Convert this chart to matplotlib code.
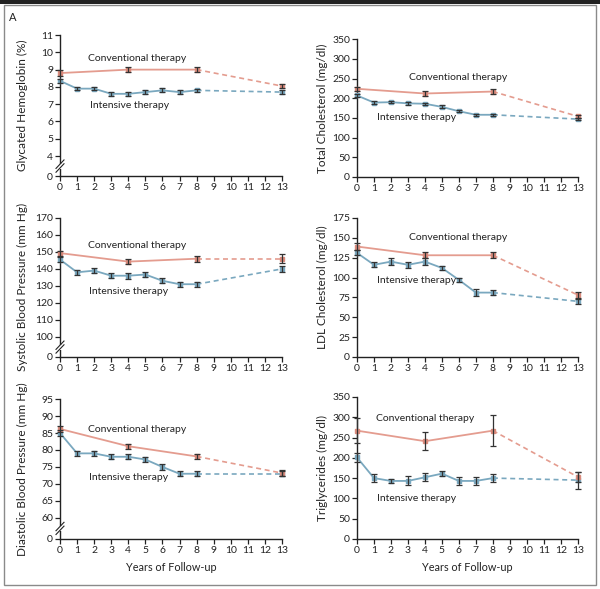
import numpy as np
import matplotlib.pyplot as plt
from matplotlib.patches import Rectangle
from matplotlib.ticker import FixedLocator

plt.rcParams['font.family'] = ['Lato', 'DejaVu Sans']

years_int = [0, 1, 2, 3, 4, 5, 6, 7, 8, 13]
years_conv = [0, 4, 8, 13]

# glycated hemoglobin (%)
hba1c_int = [8.35, 7.9, 7.9, 7.6, 7.6, 7.7, 7.8, 7.7, 7.8, 7.7]
hba1c_int_err = [0.12, 0.1, 0.1, 0.1, 0.1, 0.12, 0.12, 0.1, 0.08, 0.12]
hba1c_conv = [8.8, 9.0, 9.0, 8.05]
hba1c_conv_err = [0.15, 0.15, 0.15, 0.12]

# total cholesterol (mg/dl)
chol_int = [207, 189, 190, 187, 186, 178, 167, 158, 158, 147]
chol_int_err = [5, 4, 3, 4, 3, 4, 3, 2, 2, 3]
chol_conv = [224, 212, 217, 154]
chol_conv_err = [5, 6, 6, 4]

# systolic blood pressure (mm Hg)
sbp_int = [145.5, 138, 139, 136, 136, 136.7, 133, 131, 131, 140]
sbp_int_err = [1.5, 1.5, 1.5, 1.5, 1.7, 1.7, 1.5, 1.5, 1.5, 2]
sbp_conv = [149.3, 144.3, 146, 146]
sbp_conv_err = [1.5, 1.7, 1.7, 2.8]

# LDL cholesterol (mg/dl)
ldl_int = [131, 116, 120, 116, 120, 112, 97, 81, 81, 70]
ldl_int_err = [3, 3, 4, 4, 4, 3, 3, 4, 3, 3]
ldl_conv = [139, 128, 128, 78]
ldl_conv_err = [4, 4, 4, 4]

# diastolic blood pressure (mm Hg)
dbp_int = [85, 79, 79, 78, 78, 77.2, 75, 73, 73, 73]
dbp_int_err = [0.8, 0.8, 0.8, 0.8, 0.8, 0.8, 0.8, 0.8, 0.8, 0.8]
dbp_conv = [86.2, 81.1, 78.1, 73.2]
dbp_conv_err = [0.8, 0.8, 0.8, 0.8]

# triglycerides (mg/dl)
tg_int = [201, 150, 143, 143, 152, 161, 143, 143, 150, 145]
tg_int_err = [11, 10, 6, 11, 10, 6, 10, 9, 10, 21]
tg_conv = [267, 241, 267, 153]
tg_conv_err = [30, 22, 38, 12]

C_CONV = '#e49c8f'
C_CONV_M = '#d98a7c'
C_INT = '#7aa8bf'
C_INT_M = '#7aa8bf'
C_ERR = '#333333'
FS = 7.5


def draw_series(ax, x, y, err, line_c, mark_c):
    x = np.array(x)
    y = np.array(y)
    solid = x <= 8
    ax.plot(x[solid], y[solid], color=line_c, lw=1.3, clip_on=False, zorder=2)
    ax.plot(x[-2:], y[-2:], color=line_c, lw=1.2, ls=(0, (3, 2.2)), clip_on=False, zorder=2)
    ax.plot(x, y, ls='none', marker='s', ms=3.2, mfc=mark_c, mec=mark_c,
            clip_on=False, zorder=3)
    ax.errorbar(x, y, yerr=err, fmt='none', ecolor=C_ERR, elinewidth=0.9,
                capsize=2.2, capthick=0.9, clip_on=False, zorder=4)


def panel(rect, ylabel, ticks, labels, ylim, data, conv_xy, int_xy,
          lab_x, xlabel=False, brk=None):
    ax = fig.add_axes(rect)
    for s in ['top', 'right']:
        ax.spines[s].set_visible(False)
    for s in ['left', 'bottom']:
        ax.spines[s].set_linewidth(1.0)
        ax.spines[s].set_color('#222222')
    ax.set_xlim(0, 13)
    ax.set_ylim(*ylim)
    ax.xaxis.set_major_locator(FixedLocator(range(14)))
    ax.yaxis.set_major_locator(FixedLocator(ticks))
    ax.set_yticklabels(labels)
    ax.tick_params(direction='out', length=3.5, width=0.9, labelsize=FS,
                   pad=1.5, colors='#222222')
    yi, yie, yc, yce = data
    draw_series(ax, years_int, yi, yie, C_INT, C_INT_M)
    draw_series(ax, years_conv, yc, yce, C_CONV, C_CONV_M)
    ax.text(conv_xy[0], conv_xy[1], 'Conventional therapy', fontsize=FS,
            va='center', ha='left', color='#222222')
    ax.text(int_xy[0], int_xy[1], 'Intensive therapy', fontsize=FS,
            va='center', ha='left', color='#222222')
    ax.set_ylabel(ylabel, fontsize=8.5, color='#222222')
    ax.yaxis.set_label_coords(lab_x, 0.5)
    if xlabel:
        ax.set_xlabel('Years of Follow-up', fontsize=FS + 0.3, color='#222222')
        ax.xaxis.set_label_coords(0.5, -0.165)
    if brk is not None:
        # broken-axis marks between 0 and the first real tick
        trans = ax.get_yaxis_transform()
        ax.add_patch(Rectangle((-0.02, brk - (ylim[1] - ylim[0]) * 0.018), 0.04,
                               (ylim[1] - ylim[0]) * 0.036, transform=trans,
                               facecolor='white', edgecolor='none',
                               clip_on=False, zorder=5))
        h = (ylim[1] - ylim[0]) * 0.03
        for off in [-0.45, 0.45]:
            o = off * h
            ax.plot([-0.018, 0.018], [brk - h + o, brk + h + o], transform=trans,
                    color='#222222', lw=0.8, clip_on=False, zorder=6)
    return ax


fig = plt.figure(figsize=(6, 5.89), dpi=100)

# frame
fig.add_artist(Rectangle((0.0, 0.994), 1.0, 0.006, transform=fig.transFigure,
                         facecolor='#222222', edgecolor='none'))
fig.add_artist(Rectangle((0.007, 0.006), 0.986, 0.985, transform=fig.transFigure,
                         facecolor='none', edgecolor='#8a8a8a', lw=1.0))
fig.text(0.022, 0.971, 'A', fontsize=8, va='center', ha='center', color='#222222')

panel([0.1, 0.701, 0.37, 0.2395], 'Glycated Hemoglobin (%)',
      [2.84, 4, 5, 6, 7, 8, 9, 10, 11], ['0', '4', '5', '6', '7', '8', '9', '10', '11'],
      (2.84, 11), (hba1c_int, hba1c_int_err, hba1c_conv, hba1c_conv_err),
      (1.64, 9.67), (1.75, 6.9), -0.145, brk=3.42)

panel([0.595, 0.6995, 0.368, 0.234], 'Total Cholesterol (mg/dl)',
      [0, 50, 100, 150, 200, 250, 300, 350], ['0', '50', '100', '150', '200', '250', '300', '350'],
      (0, 350), (chol_int, chol_int_err, chol_conv, chol_conv_err),
      (3.06, 253), (1.18, 150), -0.133)

panel([0.1, 0.394, 0.37, 0.236], 'Systolic Blood Pressure (mm Hg)',
      [88.2, 100, 110, 120, 130, 140, 150, 160, 170],
      ['0', '100', '110', '120', '130', '140', '150', '160', '170'],
      (88.2, 170), (sbp_int, sbp_int_err, sbp_conv, sbp_conv_err),
      (1.64, 154), (1.7, 126.5), -0.145, brk=94)

panel([0.595, 0.394, 0.368, 0.236], 'LDL Cholesterol (mg/dl)',
      [0, 25, 50, 75, 100, 125, 150, 175], ['0', '25', '50', '75', '100', '125', '150', '175'],
      (0, 175), (ldl_int, ldl_int_err, ldl_conv, ldl_conv_err),
      (3.06, 150), (1.18, 95.6), -0.133)

panel([0.1, 0.085, 0.37, 0.2375], 'Diastolic Blood Pressure (mm Hg)',
      [53.8, 60, 65, 70, 75, 80, 85, 90, 95],
      ['0', '60', '65', '70', '75', '80', '85', '90', '95'],
      (53.8, 95), (dbp_int, dbp_int_err, dbp_conv, dbp_conv_err),
      (1.64, 85.9), (1.7, 72), -0.145, xlabel=True, brk=56.9)

panel([0.595, 0.085, 0.368, 0.241], 'Triglycerides (mg/dl)',
      [0, 50, 100, 150, 200, 250, 300, 350], ['0', '50', '100', '150', '200', '250', '300', '350'],
      (0, 350), (tg_int, tg_int_err, tg_conv, tg_conv_err),
      (1.12, 298), (1.18, 99), -0.133, xlabel=True)

fig.savefig('out.png', dpi=100, facecolor='white')
